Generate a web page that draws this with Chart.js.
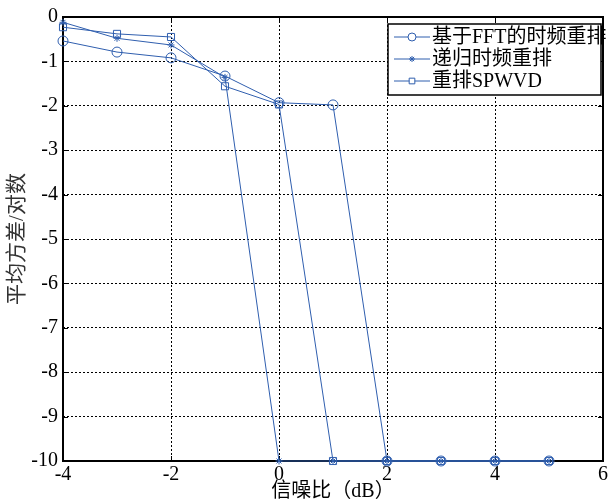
<!DOCTYPE html>
<html>
<head>
<meta charset="utf-8">
<script src="https://cdn.jsdelivr.net/npm/chart.js@4"></script>
<style>
  html, body { margin: 0; padding: 0; background: #fff; }
  #wrap { width: 610px; height: 502px; }
</style>
</head>
<body>
<div id="wrap"><canvas id="snrChart" width="610" height="502"></canvas></div>
<script>
// ===== DATA =====
const snr = [-4, -3, -2, -1, 0, 1, 2, 3, 4, 5];
const fftSeries = [-0.54, -0.79, -0.92, -1.33, -1.93, -1.98, -10, -10, -10, -10];
const recurSeries = [-0.12, -0.48, -0.63, -1.36, -10, -10, -10, -10, -10, -10];
const spwvdSeries = [-0.23, -0.38, -0.45, -1.56, -1.97, -10, -10, -10, -10, -10];
const seriesNames = ['基于FFT的时频重排', '递归时频重排', '重排SPWVD'];
const xTicks = [-4, -2, 0, 2, 4, 6];
const yTicks = [0, -1, -2, -3, -4, -5, -6, -7, -8, -9, -10];

const blue = '#2f5eae';
const serif = '"Liberation Serif", "DejaVu Serif", serif';
const cjk = '"Liberation Serif", "Noto Sans CJK SC", serif';

const toPts = arr => snr.map((x, i) => ({ x: x, y: arr[i] }));

// axes box + inward ticks under the lines, legend on top
const matlabLook = {
	id: 'matlabLook',
	beforeDatasetsDraw(chart) {
		const { ctx, chartArea: a, scales } = chart;
		ctx.save();
		ctx.strokeStyle = '#000';
		ctx.lineWidth = 1;
		ctx.beginPath();
		xTicks.forEach(v => {
			const px = Math.round(scales.x.getPixelForValue(v)) + 0.5;
			ctx.moveTo(px, a.bottom); ctx.lineTo(px, a.bottom - 5);
			ctx.moveTo(px, a.top); ctx.lineTo(px, a.top + 5);
		});
		yTicks.forEach(v => {
			const py = Math.round(scales.y.getPixelForValue(v)) + 0.5;
			ctx.moveTo(a.left, py); ctx.lineTo(a.left + 5, py);
			ctx.moveTo(a.right, py); ctx.lineTo(a.right - 5, py);
		});
		ctx.stroke();
		ctx.lineWidth = 2;
		ctx.strokeRect(a.left, a.top, a.right - a.left, a.bottom - a.top);
		ctx.restore();
	},
	afterDraw(chart) {
		const { ctx } = chart;
		const bx = 388, by = 24, bw = 213, bh = 71;
		ctx.save();
		ctx.fillStyle = '#fff';
		ctx.fillRect(bx, by, bw, bh);
		ctx.lineWidth = 1.5;
		ctx.strokeStyle = '#000';
		ctx.strokeRect(bx, by, bw, bh);
		ctx.font = '20px ' + cjk;
		ctx.textBaseline = 'middle';
		chart.data.datasets.forEach((ds, i) => {
			const cy = by + 13 + i * 22;
			ctx.strokeStyle = blue;
			ctx.lineWidth = 1;
			ctx.beginPath();
			ctx.moveTo(bx + 6, cy); ctx.lineTo(bx + 42, cy);
			ctx.stroke();
			ctx.fillStyle = '#fff';
			Chart.helpers.drawPoint(ctx, {
				pointStyle: ds.pointStyle, radius: ds.pointStyle === 'star' ? 3 : 4, borderWidth: 1
			}, bx + 24, cy);
			ctx.fillStyle = '#000';
			ctx.fillText(ds.label, bx + 44, cy + 1);
		});
		ctx.restore();
	}
};

const ctx = document.getElementById('snrChart').getContext('2d');

new Chart(ctx, {
	type: 'line',
	data: {
		datasets: [
			{
				label: seriesNames[0],
				data: toPts(fftSeries),
				pointStyle: 'circle',
				pointRadius: 5
			},
			{
				label: seriesNames[1],
				data: toPts(recurSeries),
				pointStyle: 'star',
				pointRadius: 3.5
			},
			{
				label: seriesNames[2],
				data: toPts(spwvdSeries),
				pointStyle: 'rect',
				pointRadius: 5
			}
		].map(ds => Object.assign(ds, {
			borderColor: blue,
			borderWidth: 1,
			backgroundColor: 'rgba(0,0,0,0)',
			pointBorderColor: blue,
			pointBackgroundColor: 'rgba(0,0,0,0)',
			pointBorderWidth: 1,
			tension: 0,
			clip: false
		}))
	},
	options: {
		responsive: false,
		animation: false,
		layout: { padding: { top: 17, right: 5, left: 0, bottom: 0 } },
		plugins: {
			legend: { display: false },
			tooltip: { enabled: false }
		},
		scales: {
			x: {
				type: 'linear',
				min: -4,
				max: 6,
				afterBuildTicks: s => { s.ticks = xTicks.map(v => ({ value: v })); },
				afterFit: s => { s.height = 41; },
				ticks: {
					color: '#000',
					padding: 2,
					font: { family: serif, size: 20 }
				},
				grid: {
					color: '#000',
					lineWidth: 1,
					drawTicks: false
				},
				border: { display: false, dash: [2, 2] },
				title: {
					display: true,
					text: '信噪比（dB）',
					color: '#000',
					padding: 0,
					font: { family: cjk, size: 20, lineHeight: 1 }
				}
			},
			y: {
				type: 'linear',
				min: -10,
				max: 0,
				afterBuildTicks: s => { s.ticks = yTicks.map(v => ({ value: v })); },
				afterFit: s => { s.width = 63; },
				ticks: {
					color: '#000',
					padding: 5,
					font: { family: serif, size: 20 }
				},
				grid: {
					color: '#000',
					lineWidth: 1,
					drawTicks: false
				},
				border: { display: false, dash: [2, 2] },
				title: {
					display: true,
					text: '平均方差/对数',
					color: '#333',
					padding: { top: 5, bottom: 0 },
					font: { family: cjk, size: 21 }
				}
			}
		}
	},
	plugins: [matlabLook]
});
</script>
</body>
</html>
